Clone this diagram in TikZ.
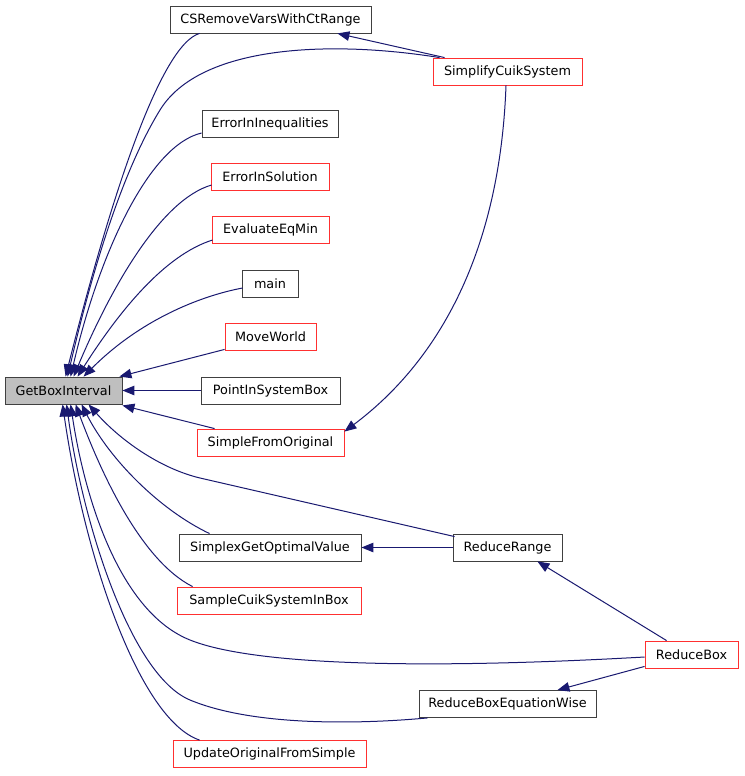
\documentclass[tikz,border=0pt]{standalone}
\usepackage{fontspec}
\setmainfont{DejaVu Sans}
\usetikzlibrary{arrows.meta,calc}
\definecolor{edgec}{HTML}{191970}
\definecolor{boxblack}{HTML}{404040}
\definecolor{boxred}{HTML}{FF3030}
\definecolor{gbifill}{HTML}{BFBFBF}
\begin{document}
\begin{tikzpicture}[x=1pt,y=1pt,
  fn/.style={draw=boxblack,line width=0.85pt,rectangle,minimum height=27pt,inner sep=0pt,
    font=\fontsize{12.8}{14}\selectfont,fill=white},
  rn/.style={fn,draw=boxred},
  edge/.style={draw=edgec,line width=1pt,-{Triangle[length=12pt,width=9.5pt]}}]
\useasboundingbox (0,0) rectangle (744,-776);
\fill[white] (0,0) rectangle (744,-776);
% nodes
\node[fn,fill=gbifill,minimum width=117pt] (gbi) at (63.5,-390.5) {GetBoxInterval};
\node[fn,minimum width=201pt] (csr) at (270.5,-19.5) {CSRemoveVarsWithCtRange};
\node[rn,minimum width=149pt] (scs) at (507.5,-71.5) {SimplifyCuikSystem};
\node[fn,minimum width=136pt] (eii) at (270,-123.5) {ErrorInInequalities};
\node[rn,minimum width=118pt] (eis) at (270,-176.5) {ErrorInSolution};
\node[rn,minimum width=117pt] (eem) at (270.5,-229.5) {EvaluateEqMin};
\node[fn,minimum width=56pt] (main) at (270,-283.5) {main};
\node[rn,minimum width=91pt] (mw) at (270.5,-336.5) {MoveWorld};
\node[fn,minimum width=139pt] (pisb) at (270.5,-390.5) {PointInSystemBox};
\node[rn,minimum width=147pt] (sfo) at (270.5,-442.5) {SimpleFromOriginal};
\node[fn,minimum width=109pt] (rr) at (507.5,-547.5) {ReduceRange};
\node[fn,minimum width=182pt] (sgov) at (270,-547.5) {SimplexGetOptimalValue};
\node[rn,minimum width=184pt] (scsib) at (269,-600.5) {SampleCuikSystemInBox};
\node[rn,minimum width=93pt] (rb) at (691.5,-654.5) {ReduceBox};
\node[fn,minimum width=177pt] (rbew) at (507.5,-704) {ReduceBoxEquationWise};
\node[rn,minimum width=193pt] (uofs) at (269.5,-754) {UpdateOriginalFromSimple};
% edges into GetBoxInterval (top side)
\draw[edge] ($(csr.south west)+(30,0)$) .. controls (160,-45) and (110,-200) .. ($(gbi.north west)+(61,0)$);
\draw[edge] ($(scs.north west)+(7,0)$) .. controls (330,-40) and (200,-45) .. (160,-110) .. controls (120,-175) and (90,-280) .. ($(gbi.north west)+(63,0)$);
\draw[edge] ($(eii.west)+(0,-9.5)$) .. controls (150,-145) and (100,-250) .. ($(gbi.north west)+(66,0)$);
\draw[edge] ($(eis.west)+(1,-8.5)$) .. controls (160,-200) and (110,-290) .. ($(gbi.north west)+(69,0)$);
\draw[edge] ($(eem.west)+(1,-10.5)$) .. controls (165,-255) and (120,-310) .. ($(gbi.north west)+(73,0)$);
\draw[edge] ($(main.west)+(1,-4.5)$) .. controls (200,-296) and (140,-320) .. ($(gbi.north west)+(79,0)$);
\draw[edge] ($(mw.south west)+(0,1)$) -- ($(gbi.north east)+(-3,0)$);
\draw[edge] (pisb.west) -- (gbi.east);
% edges into GetBoxInterval (bottom side)
\draw[edge] ($(sfo.north west)+(18,0)$) -- ($(gbi.south east)+(0,-1)$);
\draw[edge] ($(rr.north west)+(2,-3)$) -- (200,-478) .. controls (160,-468.5) and (120,-440) .. ($(gbi.south west)+(84,0)$);
\draw[edge] ($(sgov.north west)+(31,0)$) .. controls (160,-510) and (110,-460) .. ($(gbi.south west)+(77,0)$);
\draw[edge] ($(scsib.north west)+(16,0)$) .. controls (140,-560) and (100,-470) .. ($(gbi.south west)+(71,0)$);
\draw[edge] ($(rb.west)+(0,-2.5)$) .. controls (450,-668) and (260,-668) .. (190,-640) .. controls (120,-612) and (85,-500) .. ($(gbi.south west)+(66,0)$);
\draw[edge] ($(rbew.south west)+(9,0)$) .. controls (350,-725) and (250,-725) .. (190,-700) .. controls (130,-675) and (82,-520) .. ($(gbi.south west)+(62,0)$);
\draw[edge] ($(uofs.north west)+(27,0)$) .. controls (140,-720) and (85,-560) .. ($(gbi.south west)+(58,0)$);
% other edges
\draw[edge] ($(scs.north west)+(12,0)$) -- ($(csr.south east)+(-34,0)$);
\draw[edge] ($(scs.south)+(-1.5,0)$) .. controls (500,-250) and (440,-360) .. ($(sfo.north east)+(0,-3)$);
\draw[edge] (rr.west) -- (sgov.east);
\draw[edge] ($(rb.north west)+(22,0)$) -- ($(rr.south east)+(-25,0)$);
\draw[edge] ($(rb.south west)+(0,2)$) -- ($(rbew.north east)+(-39,0)$);
\end{tikzpicture}
\end{document}
